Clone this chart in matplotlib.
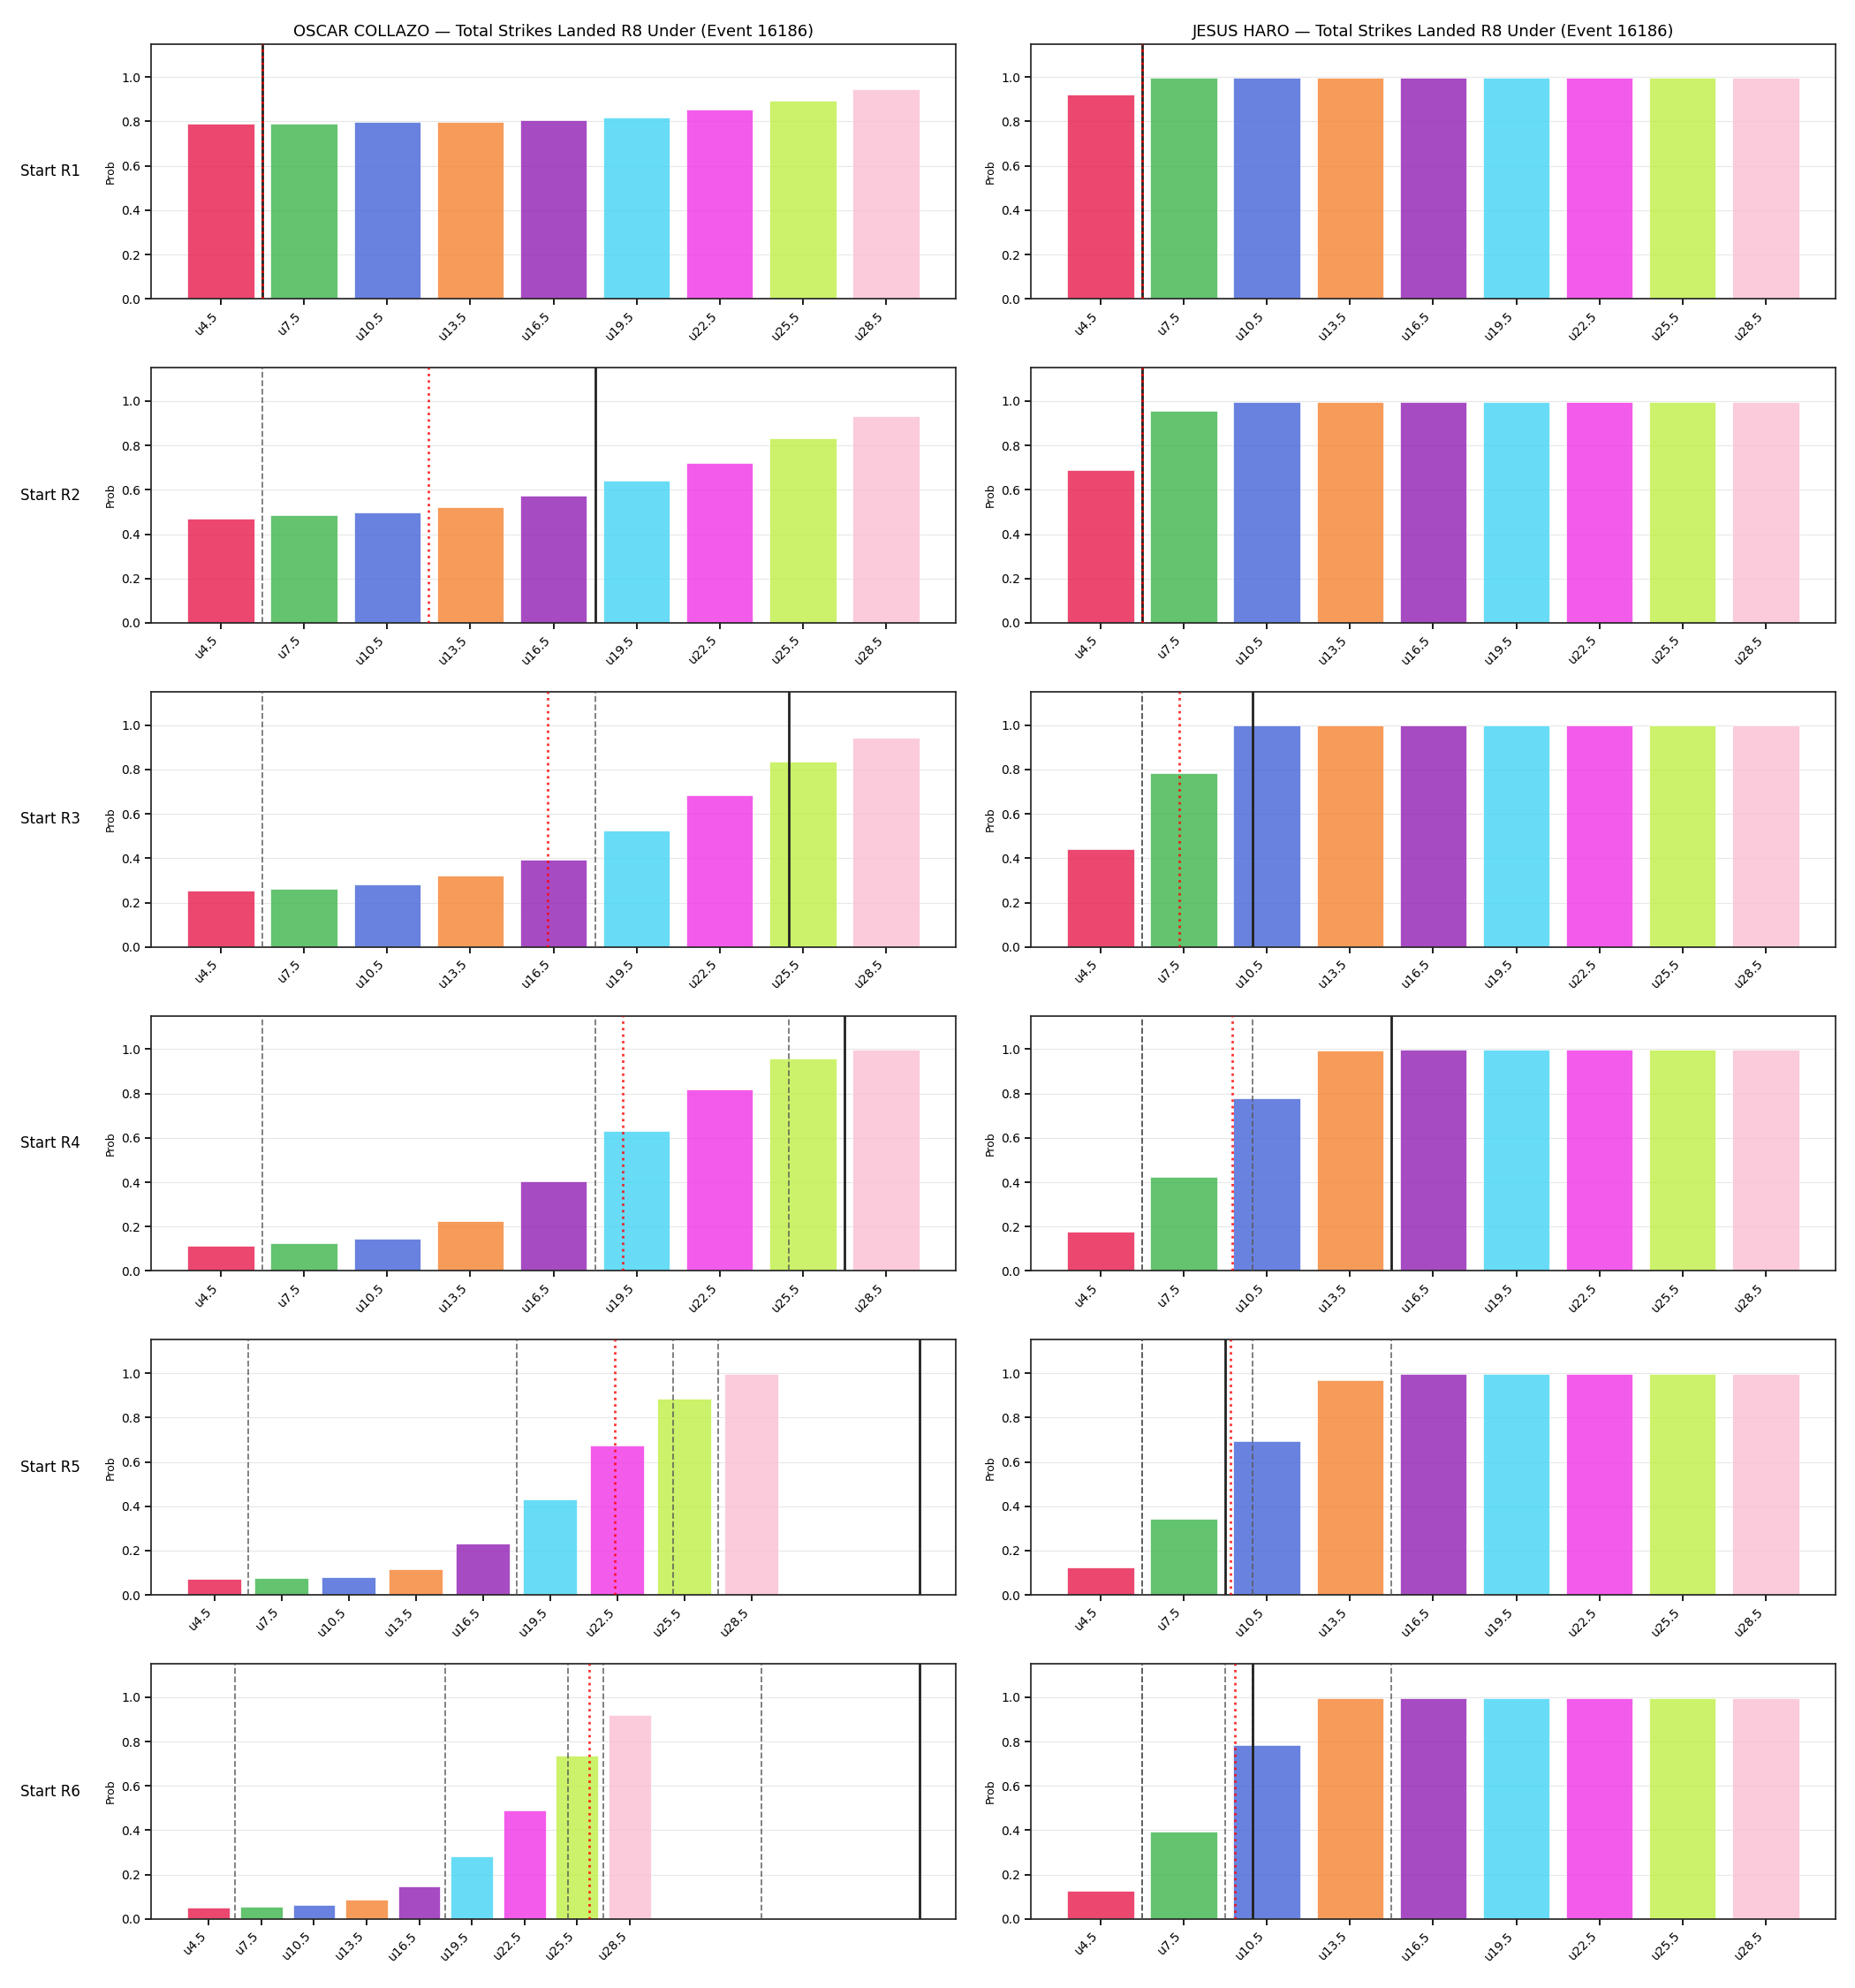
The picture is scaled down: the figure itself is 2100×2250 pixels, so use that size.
import matplotlib
matplotlib.use('Agg')
import matplotlib.pyplot as plt

plt.rcParams['font.family'] = ['DejaVu Sans']
plt.rcParams['axes.edgecolor'] = '#262626'
plt.rcParams['axes.linewidth'] = 1.25
plt.rcParams['xtick.major.width'] = 1.25
plt.rcParams['ytick.major.width'] = 1.25
plt.rcParams['xtick.major.size'] = 5
plt.rcParams['ytick.major.size'] = 5

# 盘口线
lines = [4.5, 7.5, 10.5, 13.5, 16.5, 19.5, 22.5, 25.5, 28.5]
labels = ['u4.5', 'u7.5', 'u10.5', 'u13.5', 'u16.5', 'u19.5', 'u22.5', 'u25.5', 'u28.5']
colors = ['#e6194b', '#3cb44b', '#4363d8', '#f58231', '#911eb4',
          '#42d4f4', '#f032e6', '#bfef45', '#fabed4']
rounds = ['Start R1', 'Start R2', 'Start R3', 'Start R4', 'Start R5', 'Start R6']
fighters = ['OSCAR COLLAZO', 'JESUS HARO']

# 每回合的under概率
collazo_probs = [
    [0.790, 0.790, 0.798, 0.798, 0.806, 0.818, 0.854, 0.893, 0.945],
    [0.470, 0.485, 0.497, 0.522, 0.573, 0.640, 0.722, 0.832, 0.930],
    [0.252, 0.262, 0.282, 0.322, 0.392, 0.523, 0.683, 0.836, 0.942],
    [0.115, 0.127, 0.147, 0.225, 0.403, 0.630, 0.817, 0.957, 0.998],
    [0.072, 0.075, 0.079, 0.118, 0.230, 0.432, 0.674, 0.885, 0.996],
    [0.050, 0.054, 0.064, 0.086, 0.147, 0.281, 0.491, 0.735, 0.921],
]
haro_probs = [
    [0.921, 0.997, 0.997, 0.997, 0.997, 0.997, 0.997, 0.997, 0.997],
    [0.690, 0.955, 0.997, 0.997, 0.997, 0.997, 0.997, 0.997, 0.997],
    [0.442, 0.782, 0.997, 0.997, 0.997, 0.997, 0.997, 0.997, 0.997],
    [0.178, 0.422, 0.778, 0.993, 0.997, 0.997, 0.997, 0.997, 0.997],
    [0.126, 0.345, 0.695, 0.970, 0.997, 0.997, 0.997, 0.997, 0.997],
    [0.126, 0.392, 0.785, 0.996, 0.997, 0.997, 0.997, 0.997, 0.997],
]
# 黑线: 回合开始时的累计, 红点线: 预测
collazo_current = [6, 18, 25, 27, 36, 45]
collazo_proj = [6.0, 12.0, 16.3, 19.0, 22.4, 26.2]
haro_current = [6, 6, 10, 15, 9, 10]
haro_proj = [6.0, 6.0, 7.35, 9.26, 9.2, 9.36]

all_probs = [collazo_probs, haro_probs]
all_current = [collazo_current, haro_current]
all_proj = [collazo_proj, haro_proj]

fig, axes = plt.subplots(6, 2, figsize=(21, 22.5), dpi=100)
fig.subplots_adjust(left=0.0814, right=0.9895, top=0.978, bottom=0.0347,
                    wspace=0.093, hspace=0.27)

for c in range(2):
    for r in range(6):
        ax = axes[r, c]
        ax.bar(lines, all_probs[c][r], width=2.4, color=colors, alpha=0.8,
               edgecolor='white', linewidth=0.6, zorder=2)
        # 之前回合的黑线画成灰色虚线
        for prev in all_current[c][:r]:
            ax.axvline(prev, color='#555555', ls='--', lw=1.3, alpha=0.8, zorder=3)
        ax.axvline(all_current[c][r], color='#222222', lw=2, zorder=4)
        ax.axvline(all_proj[c][r], color='red', ls=':', lw=2, alpha=0.8, zorder=5)
        ax.set_ylim(0, 1.15)
        ax.set_xticks(lines)
        ax.set_xticklabels(labels, rotation=45, ha='right')
        ax.grid(axis='y', alpha=0.3, zorder=0)
        ax.set_axisbelow(True)
        ax.set_ylabel('Prob', fontsize=9)
        if c == 0:
            ax.text(-0.088, 0.5, rounds[r], transform=ax.transAxes,
                    ha='right', va='center', fontsize=12)
        if r == 0:
            ax.set_title(fighters[c] + ' — Total Strikes Landed R8 Under (Event 16186)',
                         fontsize=13)

fig.savefig('out.png')
